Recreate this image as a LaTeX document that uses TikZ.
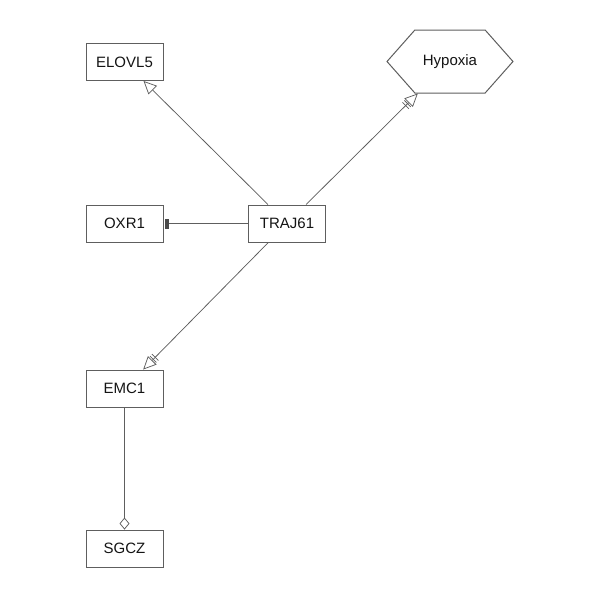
\documentclass[tikz,border=0pt]{standalone}
\usepackage{fontspec}
\setmainfont{Liberation Sans}
\usetikzlibrary{arrows.meta,shapes.symbols}
\definecolor{edgegray}{HTML}{5E5E5E}
\definecolor{bargray}{HTML}{4A4A4A}
\tikzset{
  x=1pt, y=-1pt,
  every node/.style={font=\fontsize{15}{17}\selectfont, text=black!92},
  genebox/.style={draw=edgegray, line width=0.9pt, fill=white,
    minimum width=77pt, minimum height=37pt, inner sep=0pt},
  hexbox/.style={draw=edgegray, line width=1pt, fill=white, shape=signal,
    signal to=east and west, signal pointer angle=97,
    minimum width=126pt, minimum height=63pt, inner sep=0pt},
  link/.style={draw=edgegray, line width=0.75pt},
  promotes/.style={link, -{Triangle[open, length=13pt, width=12pt, fill=white]}},
  binds/.style={link, -{Bar[width=9pt, line width=0.75pt, sep=2pt] Bar[width=9pt, line width=0.75pt, sep=1pt] Triangle[open, length=13pt, width=12pt, fill=white]}},
  blocks/.style={link, shorten >=2pt, -{Rectangle[length=3.5pt, width=10pt, color=bargray]}},
  partof/.style={link, -{Diamond[open, length=12pt, width=10pt, fill=white]}},
}
\begin{document}
\begin{tikzpicture}
\useasboundingbox (0,0) rectangle (600,600);
\node[genebox] (elovl) at (124.5,62) {ELOVL5};
\node[hexbox] (hypoxia) at (450,61.5) {Hypoxia};
\node[genebox] (oxr) at (124.5,223.5) {OXR1};
\node[genebox] (traj) at (287,223.5) {TRAJ61};
\node[genebox] (emc) at (124.5,388.5) {EMC1};
\node[genebox] (sgcz) at (124.5,548.5) {SGCZ};

\draw[promotes] (traj) -- (elovl);
\draw[binds] (traj) -- (hypoxia);
\draw[blocks] (traj) -- (oxr);
\draw[binds] (traj) -- (emc);
\draw[partof] (emc) -- (sgcz);
\end{tikzpicture}
\end{document}
